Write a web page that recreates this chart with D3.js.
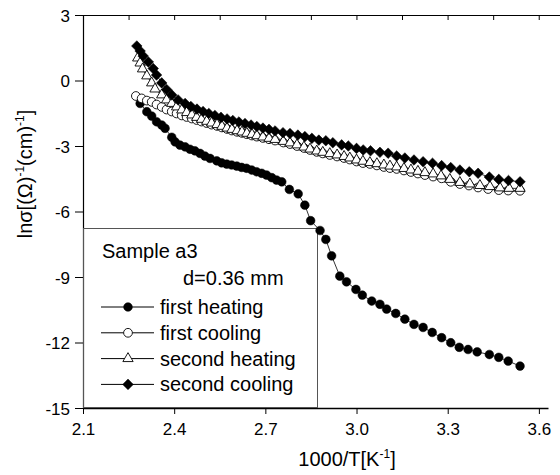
<!DOCTYPE html>
<html>
<head>
<meta charset="utf-8">
<script src="https://cdn.jsdelivr.net/npm/d3@7"></script>
<style>
  body { margin: 0; background: #fff; }
  text { font-family: "Liberation Sans", Arial, sans-serif; fill: #000; }
</style>
</head>
<body>
<script>
// datos
var firstHeatingX = [2.288, 2.310, 2.326, 2.342, 2.359, 2.370, 2.392, 2.403, 2.419, 2.436,
	2.452, 2.468, 2.485, 2.501, 2.518, 2.540, 2.556, 2.573, 2.589, 2.606,
	2.622, 2.638, 2.655, 2.671, 2.688, 2.704, 2.721, 2.737, 2.754, 2.779,
	2.808, 2.830, 2.849, 2.880, 2.899, 2.918, 2.945, 2.967, 2.998, 3.019,
	3.050, 3.077, 3.099, 3.129, 3.159, 3.189, 3.219, 3.249, 3.280, 3.310,
	3.338, 3.367, 3.397, 3.437, 3.468, 3.499, 3.538];
var firstHeatingY = [-1.05, -1.43, -1.63, -1.89, -2.04, -2.19, -2.60, -2.81, -2.96, -3.04,
	-3.15, -3.22, -3.34, -3.46, -3.57, -3.68, -3.77, -3.83, -3.87, -3.92,
	-3.98, -4.02, -4.10, -4.18, -4.25, -4.33, -4.45, -4.56, -4.64, -4.99,
	-5.19, -5.71, -6.42, -6.87, -7.28, -8.03, -8.96, -9.22, -9.57, -9.83,
	-10.10, -10.25, -10.47, -10.67, -10.93, -11.17, -11.31, -11.54, -11.78, -12.01,
	-12.22, -12.32, -12.43, -12.55, -12.68, -12.85, -13.08];

var firstCoolingX = [2.274, 2.293, 2.310, 2.326, 2.342, 2.359, 2.375, 2.392, 2.408, 2.425,
	2.441, 2.458, 2.474, 2.490, 2.507, 2.523, 2.541, 2.557, 2.574, 2.590,
	2.607, 2.623, 2.639, 2.656, 2.672, 2.692, 2.712, 2.732, 2.759, 2.781,
	2.804, 2.827, 2.847, 2.869, 2.889, 2.912, 2.936, 2.959, 2.978, 3.000,
	3.021, 3.044, 3.067, 3.090, 3.110, 3.132, 3.156, 3.179, 3.202, 3.225,
	3.252, 3.280, 3.310, 3.340, 3.370, 3.400, 3.433, 3.468, 3.499, 3.538];
var firstCoolingY = [-0.71, -0.82, -0.92, -0.98, -1.10, -1.21, -1.33, -1.42, -1.51, -1.60,
	-1.67, -1.74, -1.81, -1.88, -1.95, -2.02, -2.08, -2.15, -2.22, -2.29,
	-2.35, -2.40, -2.46, -2.52, -2.57, -2.63, -2.69, -2.75, -2.84, -2.91,
	-3.00, -3.09, -3.18, -3.27, -3.34, -3.41, -3.48, -3.55, -3.62, -3.71,
	-3.78, -3.82, -3.89, -3.96, -4.01, -4.05, -4.12, -4.19, -4.26, -4.33,
	-4.40, -4.48, -4.64, -4.74, -4.81, -4.90, -4.97, -5.02, -5.04, -5.05];

var secondHeatingX = [2.280, 2.288, 2.296, 2.310, 2.326, 2.337, 2.359, 2.375, 2.392, 2.408,
	2.425, 2.441, 2.458, 2.474, 2.490, 2.507, 2.523, 2.541, 2.557, 2.574,
	2.590, 2.607, 2.623, 2.639, 2.656, 2.672, 2.692, 2.712, 2.732, 2.759,
	2.781, 2.804, 2.827, 2.847, 2.869, 2.889, 2.912, 2.936, 2.959, 2.978,
	3.000, 3.021, 3.044, 3.067, 3.090, 3.110, 3.132, 3.156, 3.179, 3.202,
	3.225, 3.252, 3.278, 3.307, 3.340, 3.373, 3.406, 3.439, 3.472, 3.502, 3.538];
var secondHeatingY = [1.03, 0.80, 0.53, 0.21, -0.11, -0.39, -0.66, -0.89, -1.05, -1.21,
	-1.35, -1.47, -1.58, -1.69, -1.78, -1.87, -1.95, -2.02, -2.10, -2.18,
	-2.24, -2.30, -2.36, -2.42, -2.47, -2.53, -2.59, -2.65, -2.70, -2.79,
	-2.86, -2.95, -3.05, -3.14, -3.23, -3.29, -3.35, -3.41, -3.48, -3.55,
	-3.64, -3.70, -3.76, -3.81, -3.87, -3.92, -3.96, -4.03, -4.10, -4.16,
	-4.22, -4.28, -4.37, -4.53, -4.67, -4.74, -4.81, -4.86, -4.92, -4.94, -4.94];

var secondCoolingX = [2.277, 2.288, 2.298, 2.315, 2.331, 2.342, 2.359, 2.375, 2.392, 2.413,
	2.436, 2.455, 2.475, 2.495, 2.514, 2.534, 2.554, 2.574, 2.593, 2.613,
	2.633, 2.653, 2.672, 2.692, 2.712, 2.732, 2.758, 2.781, 2.807, 2.830,
	2.853, 2.876, 2.899, 2.922, 2.951, 2.973, 3.000, 3.022, 3.046, 3.077,
	3.104, 3.132, 3.159, 3.189, 3.219, 3.250, 3.280, 3.310, 3.340, 3.371,
	3.400, 3.437, 3.468, 3.500, 3.538];
var secondCoolingY = [1.58, 1.35, 1.12, 0.85, 0.55, 0.25, -0.11, -0.41, -0.66, -0.89,
	-1.05, -1.19, -1.31, -1.42, -1.51, -1.60, -1.69, -1.76, -1.83, -1.90,
	-1.97, -2.04, -2.11, -2.18, -2.24, -2.31, -2.39, -2.43, -2.50, -2.57,
	-2.65, -2.73, -2.76, -2.85, -2.95, -3.00, -3.11, -3.18, -3.22, -3.29,
	-3.33, -3.46, -3.55, -3.64, -3.72, -3.79, -3.90, -3.99, -4.10, -4.18,
	-4.25, -4.42, -4.53, -4.58, -4.64];

var seriesNames = ["first heating", "first cooling", "second heating", "second cooling"];
var xTicks = [2.1, 2.4, 2.7, 3.0, 3.3, 3.6];
var yTicks = [-15, -12, -9, -6, -3, 0, 3];

var series = [
	{"name": seriesNames[0], "xs": firstHeatingX, "ys": firstHeatingY, "shape": "circle", "fill": "black"},
	{"name": seriesNames[1], "xs": firstCoolingX, "ys": firstCoolingY, "shape": "circle", "fill": "white"},
	{"name": seriesNames[2], "xs": secondHeatingX, "ys": secondHeatingY, "shape": "triangle", "fill": "white"},
	{"name": seriesNames[3], "xs": secondCoolingX, "ys": secondCoolingY, "shape": "diamond", "fill": "black"}
];

var canvas = d3.select("body")
				.append("svg")
				.attr("width", 560)
				.attr("height", 475);

canvas.append("rect").attr("width", 560).attr("height", 475).attr("fill", "white");

var x = d3.scaleLinear().domain([2.1, 3.63]).range([83, 548]);
var y = d3.scaleLinear().domain([-15, 3]).range([408, 15]);

// ticks menores cada 0.15 y 1.5
var xMinor = d3.range(0, 11).map(function(i){ return 2.1 + i * 0.15; });
var yMinor = d3.range(0, 13).map(function(i){ return -15 + i * 1.5; });

function fmtX(d) { return d3.format(".1f")(d); }
// guion normal en vez del signo menos de d3
function fmtY(d) { return String(d); }

// eje inferior
var xAxisG = canvas.append("g").attr("transform", "translate(0,408)");
xAxisG.call(d3.axisBottom(x).tickValues(xMinor).tickSize(5).tickSizeOuter(0).tickFormat(""));
xAxisG.call(d3.axisBottom(x).tickValues(xTicks).tickSize(6).tickSizeOuter(0).tickFormat(fmtX));
xAxisG.selectAll("path").attr("stroke-width", 1.5);
xAxisG.selectAll("text").attr("font-size", 17).attr("dy", null).attr("y", 27);

// eje superior (solo linea y ticks hacia adentro)
var xTop = x.copy().domain([2.1, 3.67]).range([83, 560]);
var topG = canvas.append("g").attr("transform", "translate(0,15)");
topG.call(d3.axisTop(xTop).tickValues(xMinor).tickSize(-5).tickSizeOuter(0).tickFormat(""));

// eje izquierdo
var yAxisG = canvas.append("g").attr("transform", "translate(83,0)");
yAxisG.call(d3.axisLeft(y).tickValues(yMinor).tickSize(5).tickSizeOuter(0).tickFormat(""));
yAxisG.call(d3.axisLeft(y).tickValues(yTicks).tickSize(8).tickSizeOuter(0).tickFormat(fmtY));
yAxisG.selectAll("path").attr("stroke-width", 1.2);
yAxisG.selectAll("text").attr("font-size", 17).attr("x", -13).attr("dy", "0.36em");
canvas.selectAll(".domain").attr("stroke", "black");

// titulos de ejes
var xTitle = canvas.append("text")
				.attr("x", 347)
				.attr("y", 466)
				.attr("text-anchor", "middle")
				.attr("font-size", 20);
xTitle.append("tspan").text("1000/T[K");
xTitle.append("tspan").attr("font-size", 12).attr("dy", -8).text("-1");
xTitle.append("tspan").attr("dy", 8).text("]");

var yTitle = canvas.append("text")
				.attr("transform", "translate(32,174) rotate(-90)")
				.attr("text-anchor", "middle")
				.attr("font-size", 20);
yTitle.append("tspan").text("ln\u03c3[(\u03a9)");
yTitle.append("tspan").attr("font-size", 12).attr("dy", -8).text("-1");
yTitle.append("tspan").attr("dy", 8).text("(cm)");
yTitle.append("tspan").attr("font-size", 12).attr("dy", -8).text("-1");
yTitle.append("tspan").attr("dy", 8).text("]");

// caja de leyenda (queda debajo de los puntos)
canvas.append("rect")
		.attr("x", 83.5)
		.attr("y", 228.5)
		.attr("width", 234)
		.attr("height", 179)
		.attr("fill", "none")
		.attr("stroke", "#555")
		.attr("stroke-width", 1);

function symbolPath(shape) {
	if (shape == "circle") return d3.symbol().type(d3.symbolCircle).size(60)();
	if (shape == "triangle") return d3.symbol().type(d3.symbolTriangle).size(46)();
	return d3.symbol().type(d3.symbolSquare).size(56)();
}

function markerTransform(shape, px, py) {
	if (shape == "diamond") return "translate(" + px + "," + py + ") rotate(45)";
	return "translate(" + px + "," + py + ")";
}

var line = d3.line()
			.x(function(d){ return x(d[0]); })
			.y(function(d){ return y(d[1]); });

series.forEach(function(s) {
	var pts = d3.zip(s.xs, s.ys);
	var g = canvas.append("g");
	g.append("path")
		.attr("d", line(pts))
		.attr("fill", "none")
		.attr("stroke", "black")
		.attr("stroke-width", 0.8);
	g.selectAll("path.m")
		.data(pts)
		.enter()
		.append("path")
		.attr("class", "m")
		.attr("d", symbolPath(s.shape))
		.attr("transform", function(d){ return markerTransform(s.shape, x(d[0]), y(d[1])); })
		.attr("fill", s.fill)
		.attr("stroke", "black")
		.attr("stroke-width", s.fill == "white" ? 0.9 : 0.5);
});

// leyenda
canvas.append("text").attr("x", 102).attr("y", 258).attr("font-size", 20).text("Sample a3");
canvas.append("text").attr("x", 183).attr("y", 285).attr("font-size", 20).text("d=0.36 mm");

var legendRows = canvas.selectAll("g.leg")
				.data(series)
				.enter()
				.append("g")
				.attr("class", "leg")
				.attr("transform", function(d, i){ return "translate(0," + (307 + i * 25.8) + ")"; });

legendRows.append("line")
		.attr("x1", 101).attr("x2", 154)
		.attr("y1", 0).attr("y2", 0)
		.attr("stroke", "black")
		.attr("stroke-width", 1);
legendRows.append("path")
		.attr("d", function(d){ return symbolPath(d.shape); })
		.attr("transform", function(d){ return markerTransform(d.shape, 128, 0); })
		.attr("fill", function(d){ return d.fill; })
		.attr("stroke", "black")
		.attr("stroke-width", function(d){ return d.fill == "white" ? 0.9 : 0.5; });
legendRows.append("text")
		.attr("x", 160)
		.attr("y", 7)
		.attr("font-size", 20)
		.text(function(d){ return d.name; });
</script>
</body>
</html>
